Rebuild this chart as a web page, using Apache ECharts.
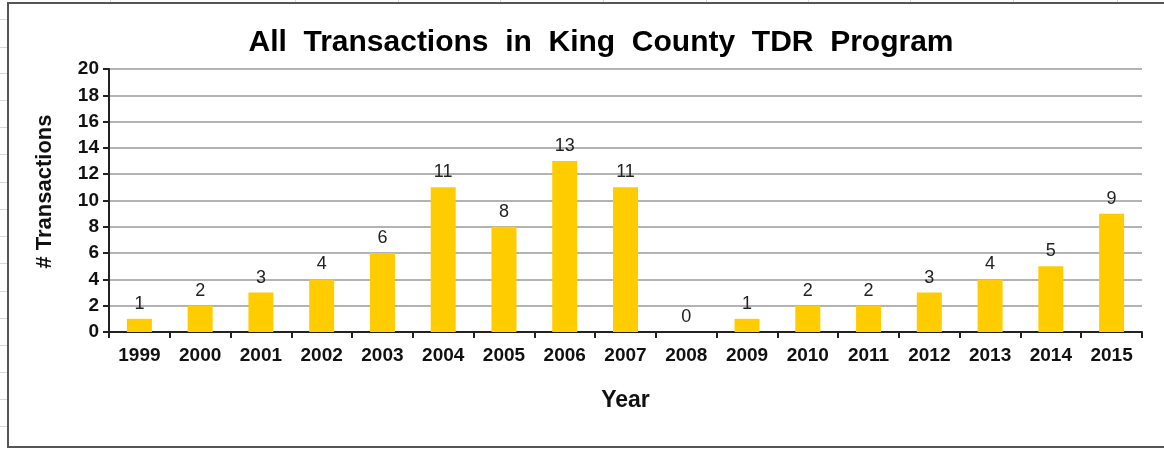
<!DOCTYPE html>
<html>
<head>
<meta charset="utf-8">
<script src="https://cdn.jsdelivr.net/npm/echarts@6/dist/echarts.min.js"></script>
<style>
html,body{margin:0;padding:0;background:#fff;}
#frame{position:absolute;left:7px;top:2px;width:1170px;height:446px;border:2px solid #555;box-sizing:border-box;}
#chart{position:absolute;left:0;top:0;width:1164px;height:450px;}
.cellh{position:absolute;left:0;width:7px;height:1px;background:#d8d8d8;}
.cellv{position:absolute;top:0;width:1px;height:2px;background:#d8d8d8;}
</style>
</head>
<body>
<div id="cells"></div>
<div id="frame"></div>
<div id="chart"></div>
<script>
const years = ['1999','2000','2001','2002','2003','2004','2005','2006','2007','2008','2009','2010','2011','2012','2013','2014','2015'];
const transactions = [1,2,3,4,6,11,8,13,11,0,1,2,2,3,4,5,9];
const yTicks = {min:0, max:20, interval:2};

// faint spreadsheet cell lines around the chart frame (decoration)
(function(){
  const c = document.getElementById('cells');
  let html = '';
  [19,47,73,100,127,154,182,209,236,263,291,318,345,372,399,426].forEach(y => { html += '<div class="cellh" style="top:' + y + 'px"></div>'; });
  [110,295,398,500,603,706,808,910,1013,1117].forEach(x => { html += '<div class="cellv" style="left:' + x + 'px"></div>'; });
  c.innerHTML = html;
})();

const chart = echarts.init(document.getElementById('chart'), null, {renderer:'canvas'});
chart.setOption({
  backgroundColor: 'transparent',
  animation: false,
  title: {
    text: 'All  Transactions  in  King  County  TDR  Program',
    left: 596, top: 23, textAlign: 'center',
    textStyle: {fontFamily: 'Liberation Sans, Arial', fontSize: 30, fontWeight: 'bold', color: '#000'}
  },
  grid: {left: 109, right: 22, top: 69, bottom: 118, containLabel: false},
  xAxis: {
    type: 'category', data: years,
    name: 'Year', nameLocation: 'middle', nameGap: 57,
    nameTextStyle: {fontFamily: 'Liberation Sans, Arial', fontSize: 23, fontWeight: 'bold', color: '#111'},
    axisLine: {lineStyle: {color: '#222', width: 2}},
    axisTick: {show: true, alignWithLabel: false, length: 6, lineStyle: {color: '#222', width: 2}},
    axisLabel: {margin: 14, fontFamily: 'Liberation Sans, Arial', fontSize: 19, fontWeight: 'bold', color: '#111', interval: 0},
    splitLine: {show: false}
  },
  yAxis: {
    type: 'value', min: yTicks.min, max: yTicks.max, interval: yTicks.interval,
    name: '# Transactions', nameLocation: 'middle', nameGap: 53, nameRotate: 90,
    nameTextStyle: {fontFamily: 'Liberation Sans, Arial', fontSize: 22, fontWeight: 'bold', color: '#111', padding: [0, 0, 0, 18]},
    axisLine: {show: true, lineStyle: {color: '#222', width: 2}},
    axisTick: {show: true, length: 6, lineStyle: {color: '#222', width: 2}},
    axisLabel: {margin: 10, fontFamily: 'Liberation Sans, Arial', fontSize: 19, fontWeight: 'bold', color: '#111'},
    splitLine: {show: true, lineStyle: {color: '#9a9a9a', width: 1.5}}
  },
  series: [{
    type: 'bar', data: transactions,
    barWidth: 25,
    itemStyle: {color: '#FFCC00'},
    label: {show: true, position: 'top', distance: 6, fontFamily: 'Liberation Sans, Arial', fontSize: 18, color: '#222'}
  }]
});
</script>
</body>
</html>
